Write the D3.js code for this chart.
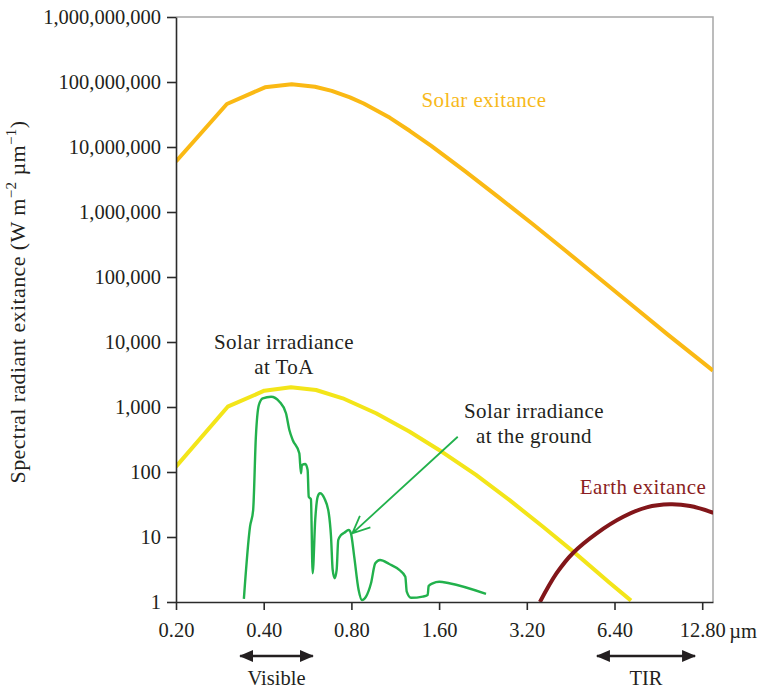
<!DOCTYPE html>
<html>
<head>
<meta charset="utf-8">
<script src="https://cdn.jsdelivr.net/npm/d3@7"></script>
<style>
  body { margin: 0; background: #fff; }
  svg text { font-family: "Liberation Serif", "DejaVu Serif", serif; fill: #231f20; }
</style>
</head>
<body>
<div id="chart"></div>
<script>
// Wavelength ticks (µm) and exitance ticks
const xTicks = [0.2, 0.4, 0.8, 1.6, 3.2, 6.4, 12.8];
const yTicks = [1, 10, 100, 1e3, 1e4, 1e5, 1e6, 1e7, 1e8, 1e9];

// Solar exitance (W m-2 µm-1)
const solarWl = [0.2, 0.299, 0.404, 0.499, 0.6, 0.685, 0.791, 0.882, 1.085, 1.271, 1.504, 1.963, 2.565, 3.35, 4.37, 5.71, 7.46, 9.73, 13.94];
const solarVal = [6.0e6, 4.59e7, 8.28e7, 9.22e7, 8.44e7, 7.30e7, 5.80e7, 4.67e7, 2.81e7, 1.76e7, 1.04e7, 4.27e6, 1.68e6, 6.53e5, 2.49e5, 9.31e4, 3.49e4, 1.31e4, 3.63e3];

// Solar irradiance at top of atmosphere
const toaWl = [0.2, 0.301, 0.402, 0.496, 0.605, 0.747, 0.972, 1.264, 1.646, 2.142, 2.786, 3.628, 4.72, 6.14, 7.29];
const toaVal = [121, 1011, 1782, 2010, 1827, 1361, 800, 419, 201, 90.2, 37.2, 14.5, 5.50, 2.0, 1.05];

// Solar irradiance at the ground
const groundWl = [0.342, 0.359, 0.368, 0.376, 0.385, 0.397, 0.424, 0.453, 0.477, 0.490, 0.503, 0.530, 0.537, 0.541, 0.556, 0.566, 0.571, 0.581, 0.589, 0.601,
  0.613, 0.624, 0.646, 0.669, 0.681, 0.690, 0.701, 0.712, 0.721, 0.737, 0.756, 0.783, 0.797, 0.818, 0.847, 0.870, 0.898, 0.934, 0.966, 1.003,
  1.079, 1.168, 1.225, 1.239, 1.281, 1.406, 1.462, 1.473, 1.521, 1.602, 1.734, 2.318];
const groundVal = [1.12, 14.4, 26, 349, 1074, 1361, 1440, 1207, 800, 443, 311, 194, 95.5, 128, 133, 107, 41.7, 38, 2.77, 18.3,
  41.7, 47, 39.4, 23.2, 10.1, 3.11, 2.32, 3.11, 9.0, 10.7, 11.6, 12.8, 11.4, 4.98, 1.53, 1.07, 1.21, 1.94, 3.94, 4.43,
  3.84, 3.11, 2.45, 1.44, 1.16, 1.21, 1.28, 1.76, 1.94, 2.05, 1.94, 1.33];

// Earth exitance
const earthWl = [3.55, 4.05, 4.62, 5.56, 6.86, 8.25, 9.92, 11.63, 13.98];
const earthVal = [1.0, 2.77, 5.73, 11.4, 20.5, 28.6, 31.8, 30.0, 23.6];

// Band ranges shown under the axis
const bandNames = ["Visible", "TIR"];
const bandFrom = [0.332, 5.57];
const bandTo = [0.590, 12.1];

// Pointer from the ground label to the curve (wavelength, value)
const pointerFrom = [1.854, 349];
const pointerTo = [0.806, 11.4];

const width = 765, height = 690;
const margin = { top: 17, right: 52, bottom: 88, left: 176 };

const svg = d3.select('#chart').append('svg')
  .attr('width', width)
  .attr('height', height);

const x = d3.scaleLog().base(2)
  .domain([0.2, 13.94])
  .range([margin.left, width - margin.right]);

const y = d3.scaleLog()
  .domain([1, 1e9])
  .range([height - margin.bottom, margin.top]);

const x0 = x.range()[0], x1 = x.range()[1];
const y0 = y.range()[0], y1 = y.range()[1];

const defs = svg.append('defs');
defs.append('clipPath')
  .attr('id', 'plot-clip')
  .append('rect')
  .attr('x', x0).attr('y', y1)
  .attr('width', x1 - x0).attr('height', y0 - y1);

// frame: light top and right edges
svg.append('path')
  .attr('d', `M${x0},${y1}H${x1}V${y0}`)
  .attr('fill', 'none')
  .attr('stroke', '#a7a7a7')
  .attr('stroke-width', 1.5);

// curves
const straight = d3.line()
  .x(d => x(d[0]))
  .y(d => y(d[1]));

const smooth = d3.line()
  .x(d => x(d[0]))
  .y(d => y(d[1]))
  .curve(d3.curveCatmullRom.alpha(0.5));

const jagged = d3.line()
  .x(d => x(d[0]))
  .y(d => y(d[1]))
  .curve(d3.curveMonotoneX);

const series = [
  { wl: solarWl, val: solarVal, color: '#fab914', w: 4, gen: straight },
  { wl: toaWl, val: toaVal, color: '#f3e519', w: 4, gen: straight },
  { wl: earthWl, val: earthVal, color: '#82161a', w: 4, gen: smooth },
  { wl: groundWl, val: groundVal, color: '#22b14c', w: 2.4, gen: jagged }
];

const curves = svg.append('g').attr('clip-path', 'url(#plot-clip)');
series.forEach(s => {
  curves.append('path')
    .datum(s.wl.map((w, i) => [w, s.val[i]]))
    .attr('d', s.gen)
    .attr('fill', 'none')
    .attr('stroke', s.color)
    .attr('stroke-width', s.w)
    .attr('stroke-linejoin', 'round');
});

// axes
const xAxis = svg.append('g')
  .attr('transform', `translate(0,${y0})`)
  .call(d3.axisBottom(x).tickValues(xTicks).tickFormat(d3.format('.2f')).tickSize(8).tickPadding(12).tickSizeOuter(0));

const yAxis = svg.append('g')
  .attr('transform', `translate(${x0},0)`)
  .call(d3.axisLeft(y).tickValues(yTicks).tickFormat(d3.format(',')).tickSize(9).tickPadding(6).tickSizeOuter(0));

[xAxis, yAxis].forEach(g => {
  g.select('.domain').attr('stroke', '#2b2b2b').attr('stroke-width', 1.6);
  g.selectAll('.tick line').attr('stroke', '#2b2b2b').attr('stroke-width', 1.6);
  g.selectAll('.tick text')
    .attr('font-family', '"Liberation Serif", serif')
    .attr('font-size', 20.5)
    .attr('fill', '#231f20');
});

svg.append('text')
  .attr('x', x(12.8) + 27)
  .attr('y', y0 + 36)
  .attr('font-size', 20.5)
  .text('µm');

// y axis title
const yTitle = svg.append('text')
  .attr('transform', `translate(25,302) rotate(-90)`)
  .attr('text-anchor', 'middle')
  .attr('font-size', 22)
  .attr('letter-spacing', 0.4);
yTitle.append('tspan').text('Spectral radiant exitance (W m');
yTitle.append('tspan').attr('font-size', 15).attr('dy', -9).text('\u22122');
yTitle.append('tspan').attr('dy', 9).text(' µm');
yTitle.append('tspan').attr('font-size', 15).attr('dy', -9).text('\u22121');
yTitle.append('tspan').attr('dy', 9).text(')');

// curve labels
const labelSize = 21;
svg.append('text')
  .attr('x', 484).attr('y', 107)
  .attr('text-anchor', 'middle')
  .attr('font-size', labelSize)
  .attr('letter-spacing', 0.4)
  .style('fill', '#f7b91a')
  .text('Solar exitance');

svg.append('text')
  .attr('x', 643).attr('y', 494)
  .attr('text-anchor', 'middle')
  .attr('font-size', labelSize)
  .attr('letter-spacing', 0.4)
  .style('fill', '#8b1e22')
  .text('Earth exitance');

const toaLabel = svg.append('text')
  .attr('text-anchor', 'middle')
  .attr('font-size', labelSize)
  .attr('letter-spacing', 0.4);
toaLabel.append('tspan').attr('x', 284).attr('y', 349).text('Solar irradiance');
toaLabel.append('tspan').attr('x', 284).attr('y', 374).text('at ToA');

const groundLabel = svg.append('text')
  .attr('text-anchor', 'middle')
  .attr('font-size', labelSize)
  .attr('letter-spacing', 0.4);
groundLabel.append('tspan').attr('x', 534).attr('y', 418).text('Solar irradiance');
groundLabel.append('tspan').attr('x', 534).attr('y', 443).text('at the ground');

// pointer arrow (open head)
const px0 = x(pointerFrom[0]), py0 = y(pointerFrom[1]);
const px1 = x(pointerTo[0]), py1 = y(pointerTo[1]);
const ang = Math.atan2(py1 - py0, px1 - px0);
const headLen = 19, headSpread = 0.42;
svg.append('path')
  .attr('d', `M${px0},${py0}L${px1},${py1}` +
    `M${px1 - headLen * Math.cos(ang - headSpread)},${py1 - headLen * Math.sin(ang - headSpread)}L${px1},${py1}` +
    `L${px1 - headLen * Math.cos(ang + headSpread)},${py1 - headLen * Math.sin(ang + headSpread)}`)
  .attr('fill', 'none')
  .attr('stroke', '#22b14c')
  .attr('stroke-width', 1.8);

// band arrows below the axis
['start', 'end'].forEach(k => {
  defs.append('marker')
    .attr('id', 'head-' + k)
    .attr('viewBox', '0 -6 14 12')
    .attr('refX', 13)
    .attr('refY', 0)
    .attr('markerUnits', 'userSpaceOnUse')
    .attr('markerWidth', 14)
    .attr('markerHeight', 12)
    .attr('orient', k === 'start' ? 'auto-start-reverse' : 'auto')
    .append('path')
    .attr('d', 'M0,-6L14,0L0,6Z')
    .attr('fill', '#231f20');
});

bandNames.forEach((name, i) => {
  const a = x(bandFrom[i]), b = x(bandTo[i]);
  svg.append('line')
    .attr('x1', a).attr('x2', b)
    .attr('y1', 656).attr('y2', 656)
    .attr('stroke', '#231f20')
    .attr('stroke-width', 2.6)
    .attr('marker-start', 'url(#head-start)')
    .attr('marker-end', 'url(#head-end)');
  svg.append('text')
    .attr('x', (a + b) / 2)
    .attr('y', 685)
    .attr('text-anchor', 'middle')
    .attr('font-size', 20.5)
    .text(name);
});
</script>
</body>
</html>
